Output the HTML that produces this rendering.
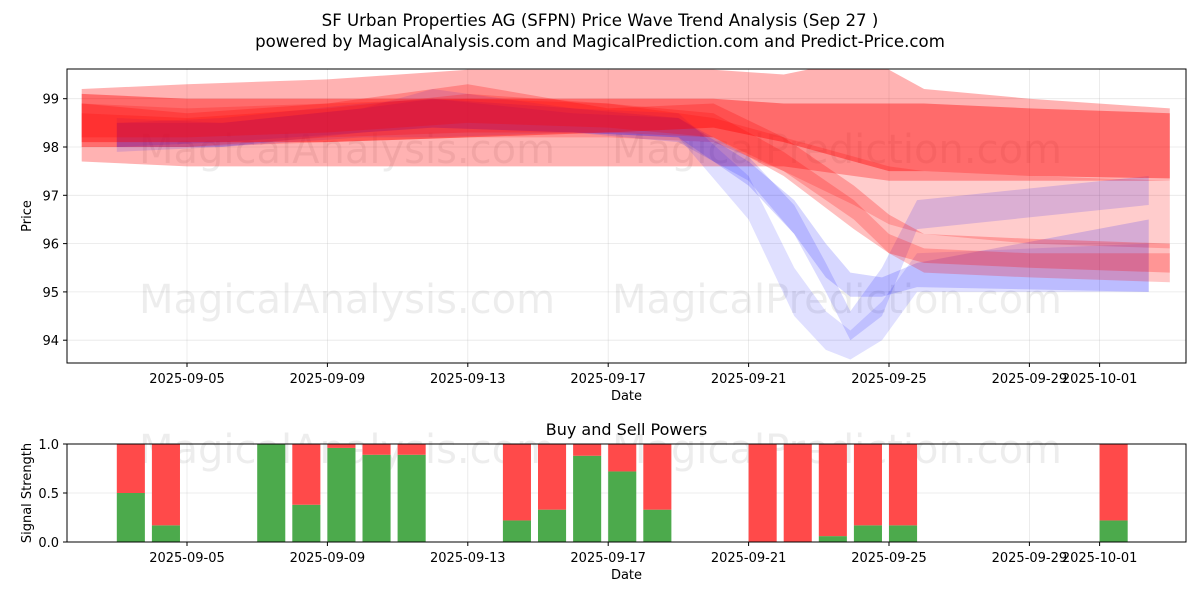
<!DOCTYPE html>
<html><head><meta charset="utf-8"><style>
body{margin:0;background:#fff;font-family:"Liberation Sans","DejaVu Sans",sans-serif}
svg text{font-family:"DejaVu Sans","Liberation Sans",sans-serif;fill:#000}
</style></head><body>
<svg id="c" width="1200" height="600" viewBox="0 0 1200 600">
<defs><clipPath id="clipTop"><rect x="67" y="69" width="1119" height="294"/></clipPath></defs>
<text x="600" y="26" font-size="16.6" text-anchor="middle">SF Urban Properties AG (SFPN) Price Wave Trend Analysis (Sep 27 )</text>
<text x="600" y="47" font-size="16.6" text-anchor="middle">powered by MagicalAnalysis.com and MagicalPrediction.com and Predict-Price.com</text>
<g id="topPanel"></g>
<g id="botPanel"></g>
</svg>
<script>
// ---- data ----
const xTickDays = [4, 8, 12, 16, 20, 24, 28, 30];
const xTickLabels = ["2025-09-05","2025-09-09","2025-09-13","2025-09-17","2025-09-21","2025-09-25","2025-09-29","2025-10-01"];
const yTicks = [94, 95, 96, 97, 98, 99];
const bandDays = [1, 4, 8, 12, 16, 19, 21, 23, 24, 25, 28, 32];
const redWideHi = [99.2, 99.3, 99.4, 99.6, 99.6, 99.6, 99.5, 99.8, 99.6, 99.2, 99.0, 98.8];
const redWideLo = [97.7, 97.6, 97.6, 97.6, 97.6, 97.6, 97.6, 97.4, 97.3, 97.3, 97.3, 97.3];
const redLowHi = [98.9, 98.8, 98.9, 99.0, 98.9, 98.6, 98.2, 97.8, 97.6, 97.5, 97.4, 97.3];
const redLowLo = [98.0, 98.0, 98.1, 98.2, 98.2, 98.1, 97.5, 96.8, 96.4, 96.2, 96.0, 95.9];
const redMainHi = [99.1, 99.0, 99.0, 99.0, 99.0, 99.0, 98.9, 98.9, 98.9, 98.9, 98.8, 98.7];
const redMainLo = [98.1, 98.1, 98.1, 98.2, 98.3, 98.4, 98.1, 97.7, 97.5, 97.5, 97.4, 97.35];
const redDropHi = [98.9, 98.7, 98.9, 99.3, 98.8, 98.9, 98.2, 97.2, 96.6, 96.2, 96.1, 96.0];
const redDropLo = [98.2, 98.2, 98.3, 98.5, 98.4, 98.2, 97.4, 96.3, 95.8, 95.6, 95.5, 95.4];
const redMidHi = [98.7, 98.6, 98.8, 99.1, 98.9, 98.7, 97.9, 96.9, 96.2, 95.9, 95.8, 95.8];
const redMidLo = [98.0, 98.0, 98.2, 98.3, 98.3, 98.2, 97.5, 96.5, 95.8, 95.4, 95.3, 95.2];
const blueDays = [2, 5, 9, 11, 15, 18, 20, 21.3, 22.2, 22.9, 23.8, 24.8, 31.4];
const blueAHi = [98.6, 98.5, 98.8, 99.2, 98.8, 98.7, 97.4, 95.5, 94.6, 94.2, 94.8, 95.8, 96.0];
const blueALo = [97.9, 98.0, 98.2, 98.2, 98.3, 98.2, 96.5, 94.5, 93.8, 93.6, 94.0, 95.0, 95.0];
const blueBHi = [98.5, 98.6, 98.9, 99.0, 98.7, 98.6, 97.8, 96.8, 95.6, 94.6, 95.5, 96.9, 97.4];
const blueBLo = [98.0, 98.1, 98.3, 98.4, 98.3, 98.1, 97.3, 96.2, 95.0, 94.0, 94.5, 96.3, 96.8];
const blueCHi = [98.5, 98.5, 98.8, 99.0, 98.8, 98.6, 97.7, 96.9, 96.0, 95.4, 95.3, 95.6, 96.5];
const blueCLo = [98.0, 98.0, 98.3, 98.4, 98.3, 98.2, 97.2, 96.2, 95.3, 94.9, 94.9, 95.1, 95.0];
const barDays = [2, 3, 6, 7, 8, 9, 10, 13, 14, 15, 16, 17, 20, 21, 22, 23, 24, 30];
const buyPower = [0.5, 0.17, 1.0, 0.38, 0.96, 0.89, 0.89, 0.22, 0.33, 0.88, 0.72, 0.33, 0, 0, 0.06, 0.17, 0.17, 0.22];
const sellPower = buyPower.map(v => 1 - v);
const sigTicks = [0, 0.5, 1.0];

// ---- layout ----
const NS = "http://www.w3.org/2000/svg";
const L = 67, R = 1186;
const x = d => 46.6 + d * 35.1;
const yT = v => 147 - (v - 98) * 48.3;
const T0 = 69, T1 = 363, B0 = 444, B1 = 542;
const yB = v => B1 - v * (B1 - B0);
function mk(parent, tag, attrs, text){const e=document.createElementNS(NS,tag);for(const k in attrs)e.setAttribute(k,attrs[k]);if(text!==undefined)e.textContent=text;parent.appendChild(e);return e;}
const topG = document.getElementById('topPanel'), botG = document.getElementById('botPanel');

function axes(g, y0, y1, ticksY, yf, yfmt, ylabel){
  for(let i=0;i<xTickDays.length;i++){
    const gl = mk(g,'line',{x1:x(xTickDays[i]),x2:x(xTickDays[i]),y1:y0,y2:y1,stroke:'#b0b0b0','stroke-width':0.8,'stroke-opacity':0.3});
    
    
    mk(g,'line',{x1:x(xTickDays[i]),x2:x(xTickDays[i]),y1:y1,y2:y1+4,stroke:'#000'});
    const t = mk(g,'text',{x:x(xTickDays[i]),y:y1+20,'font-size':13,'text-anchor':'middle'},xTickLabels[i]);
    
    
  }
  for(const v of ticksY){
    const gl = mk(g,'line',{x1:L,x2:R,y1:yf(v),y2:yf(v),stroke:'#b0b0b0','stroke-width':0.8,'stroke-opacity':0.3});
    
    
    mk(g,'line',{x1:L-4,x2:L,y1:yf(v),y2:yf(v),stroke:'#000'});
    const t = mk(g,'text',{x:L-8,y:yf(v)+5,'font-size':13,'text-anchor':'end'},yfmt(v));
    
    
  }
  const xl = mk(g,'text',{x:(L+R)/2,y:y1+37,'font-size':13,'text-anchor':'middle'},'Date');
  
  
  const yl = mk(g,'text',{x:0,y:0,'font-size':13,'text-anchor':'middle',transform:`translate(31,${(y0+y1)/2}) rotate(-90)`},ylabel);
  
  
}
function frame(g,y0,y1){const f=mk(g,'rect',{x:L,y:y0,width:R-L,height:y1-y0,fill:'none',stroke:'#000','stroke-width':1});}

// top panel
axes(topG,T0,T1,yTicks,yT,v=>String(v),'Price');
const wm1 = mk(topG,'text',{x:347,y:163,'font-size':40,'text-anchor':'middle','fill-opacity':0.07},'MagicalAnalysis.com');

const wm2 = mk(topG,'text',{x:837,y:163,'font-size':40,'text-anchor':'middle','fill-opacity':0.07},'MagicalPrediction.com');

const wm3 = mk(topG,'text',{x:347,y:313,'font-size':40,'text-anchor':'middle','fill-opacity':0.07},'MagicalAnalysis.com');

const wm4 = mk(topG,'text',{x:837,y:313,'font-size':40,'text-anchor':'middle','fill-opacity':0.07},'MagicalPrediction.com');


const bandG = mk(topG,'g',{'clip-path':'url(#clipTop)'});


function band(days,hi,lo,color,op,name){
  let p = days.map((d,i)=>x(d)+','+yT(hi[i]));
  for(let i=days.length-1;i>=0;i--)p.push(x(days[i])+','+yT(lo[i]));
  const e = mk(bandG,'polygon',{points:p.join(' '),fill:color,'fill-opacity':op});
  
  
}
band(bandDays,redWideHi,redWideLo,'#ff0000',0.3,'red-wide-band');
band(bandDays,redLowHi,redLowLo,'#ff0000',0.2,'red-low-band');
band(blueDays,blueAHi,blueALo,'#0000ff',0.12,'blue-band-a');
band(blueDays,blueBHi,blueBLo,'#0000ff',0.14,'blue-band-b');
band(blueDays,blueCHi,blueCLo,'#0000ff',0.16,'blue-band-c');
band(bandDays,redMidHi,redMidLo,'#ff0000',0.22,'red-mid-band');
band(bandDays,redDropHi,redDropLo,'#ff0000',0.25,'red-drop-band');
band(bandDays,redMainHi,redMainLo,'#ff0000',0.4,'red-main-band');
frame(topG,T0,T1);

// bottom panel
const st = mk(botG,'text',{x:(L+R)/2,y:435,'font-size':16,'text-anchor':'middle'},'Buy and Sell Powers');

axes(botG,B0,B1,sigTicks,yB,v=>v.toFixed(1),'Signal Strength');
const wm5 = mk(botG,'text',{x:347,y:463,'font-size':40,'text-anchor':'middle','fill-opacity':0.07},'MagicalAnalysis.com');

const wm6 = mk(botG,'text',{x:837,y:463,'font-size':40,'text-anchor':'middle','fill-opacity':0.07},'MagicalPrediction.com');

const bw = 0.8*35.1;
for(let i=0;i<barDays.length;i++){
  const cx = x(barDays[i]+0.4);
  const g = mk(botG,'rect',{x:cx-bw/2,y:yB(buyPower[i]),width:bw,height:yB(0)-yB(buyPower[i]),fill:'#4caa4c'});
  
  
  const r = mk(botG,'rect',{x:cx-bw/2,y:yB(buyPower[i]+sellPower[i]),width:bw,height:yB(buyPower[i])-yB(buyPower[i]+sellPower[i]),fill:'#ff4a4a'});
  
  
}
frame(botG,B0,B1);
</script>
</body></html>
